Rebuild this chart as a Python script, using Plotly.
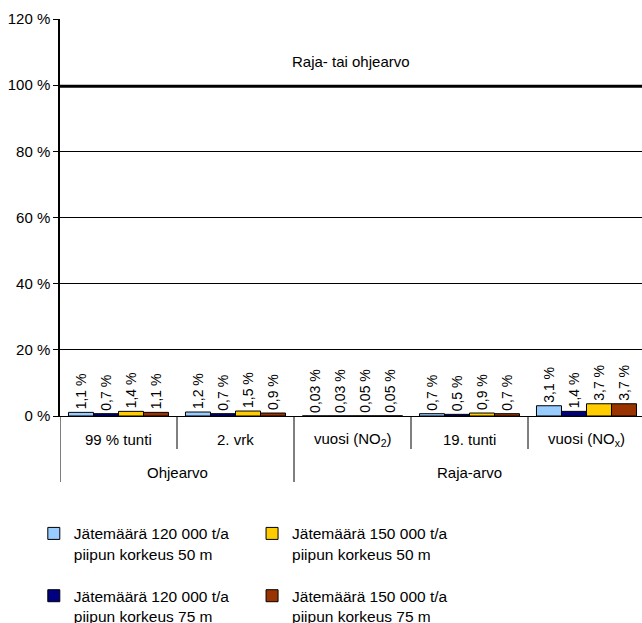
import plotly.graph_objects as go

# ---------------- data ----------------
categories = ["99 % tunti", "2. vrk", "vuosi (NO<sub>2</sub>)", "19. tunti", "vuosi (NO<sub>x</sub>)"]
groups = ["Ohjearvo", "Ohjearvo", "Raja-arvo", "Raja-arvo", "Raja-arvo"]

series_names = [
    "Jätemäärä 120 000 t/a<br>piipun korkeus 50 m",
    "Jätemäärä 120 000 t/a<br>piipun korkeus 75 m",
    "Jätemäärä 150 000 t/a<br>piipun korkeus 50 m",
    "Jätemäärä 150 000 t/a<br>piipun korkeus 75 m",
]
s1_120_50 = [1.1, 1.2, 0.03, 0.7, 3.1]
s2_120_75 = [0.7, 0.7, 0.03, 0.5, 1.4]
s3_150_50 = [1.4, 1.5, 0.05, 0.9, 3.7]
s4_150_75 = [1.1, 0.9, 0.05, 0.7, 3.7]
series_values = [s1_120_50, s2_120_75, s3_150_50, s4_150_75]
series_colors = ["#99CCFF", "#000080", "#FFCC00", "#993300"]
series_legend = ["legend", "legend", "legend2", "legend2"]

limit_value = 100
limit_label = "Raja- tai ohjearvo"
y_ticks = [0, 20, 40, 60, 80, 100, 120]

FONT = "Liberation Sans, Arial, sans-serif"


def fmt(v):
    s = f"{v:.2f}" if v < 0.1 else f"{v:.1f}"
    return s.replace(".", ",") + " %"


fig = go.Figure()
idx = list(range(len(categories)))
for name, vals, col, lg in zip(series_names, series_values, series_colors, series_legend):
    fig.add_trace(go.Bar(
        x=idx, y=vals, name=name,
        marker=dict(color=col, line=dict(color="black", width=1)),
        text=[fmt(v) for v in vals], textposition="outside", textangle=-90,
        textfont=dict(family=FONT, size=14, color="black"),
        constraintext="none", cliponaxis=False,
        legend=lg, legendgroup=name,
    ))

# limit line at 100 %
fig.add_shape(type="line", xref="paper", yref="y", x0=0, x1=1, y0=limit_value - 0.3,
              y1=limit_value - 0.3, line=dict(color="black", width=3))
fig.add_annotation(x=0.5, xref="paper", y=limit_value + 7.3, yref="y", text=limit_label,
                   showarrow=False, font=dict(family=FONT, size=15, color="black"))

# category labels and separators
PIX_H = 397.0  # plot height in px
def py(px_below):  # paper y for px below the axis
    return -px_below / PIX_H

for i, c in enumerate(categories):
    fig.add_annotation(x=i, xref="x", y=py(24), yref="paper", text=c, showarrow=False,
                       font=dict(family=FONT, size=15, color="black"), yanchor="middle")
for i in range(1, len(categories)):
    long = groups[i] != groups[i - 1]
    fig.add_shape(type="line", xref="x", yref="paper", x0=i - 0.5, x1=i - 0.5,
                  y0=0, y1=py(66 if long else 33), line=dict(color="black", width=1))
fig.add_shape(type="line", xref="x", yref="paper", x0=-0.5, x1=-0.5,
              y0=0, y1=py(66), line=dict(color="black", width=1))

# group labels
uniq = []
for g in groups:
    if g not in uniq:
        uniq.append(g)
for g in uniq:
    pos = [i for i, gg in enumerate(groups) if gg == g]
    fig.add_annotation(x=(pos[0] + pos[-1]) / 2, xref="x", y=py(56), yref="paper", text=g,
                       showarrow=False, font=dict(family=FONT, size=15, color="black"),
                       yanchor="middle")

cat_px = 117.0
plot_w = 582.0
leg_y = -0.254
fig.update_layout(
    width=642, height=623, autosize=False,
    margin=dict(l=60, r=0, t=19, b=207, pad=0, autoexpand=False),
    paper_bgcolor="white", plot_bgcolor="white",
    font=dict(family=FONT, size=15, color="black"),
    barmode="group", bargap=0.145, bargroupgap=0,
    xaxis=dict(range=[-0.5, -0.5 + plot_w / cat_px], showticklabels=False, ticks="",
               showgrid=False, zeroline=False, showline=True, linecolor="black", linewidth=1),
    yaxis=dict(range=[0, 120], tickvals=y_ticks, ticktext=[f"{v} %" for v in y_ticks],
               showgrid=True, gridcolor="black", gridwidth=1, zeroline=False,
               showline=True, linecolor="black", linewidth=1.5,
               ticks="outside", ticklen=5, tickcolor="black",
               tickfont=dict(family=FONT, size=15, color="black")),
    legend=dict(x=-0.045, xanchor="left", y=leg_y, yanchor="top", valign="top",
                tracegroupgap=19, font=dict(family=FONT, size=15.5, color="black"),
                bgcolor="rgba(0,0,0,0)"),
    legend2=dict(x=0.33, xanchor="left", y=leg_y, yanchor="top", valign="top",
                 tracegroupgap=19, font=dict(family=FONT, size=15.5, color="black"),
                 bgcolor="rgba(0,0,0,0)"),
    showlegend=True,
)

fig.write_html("out.html")
